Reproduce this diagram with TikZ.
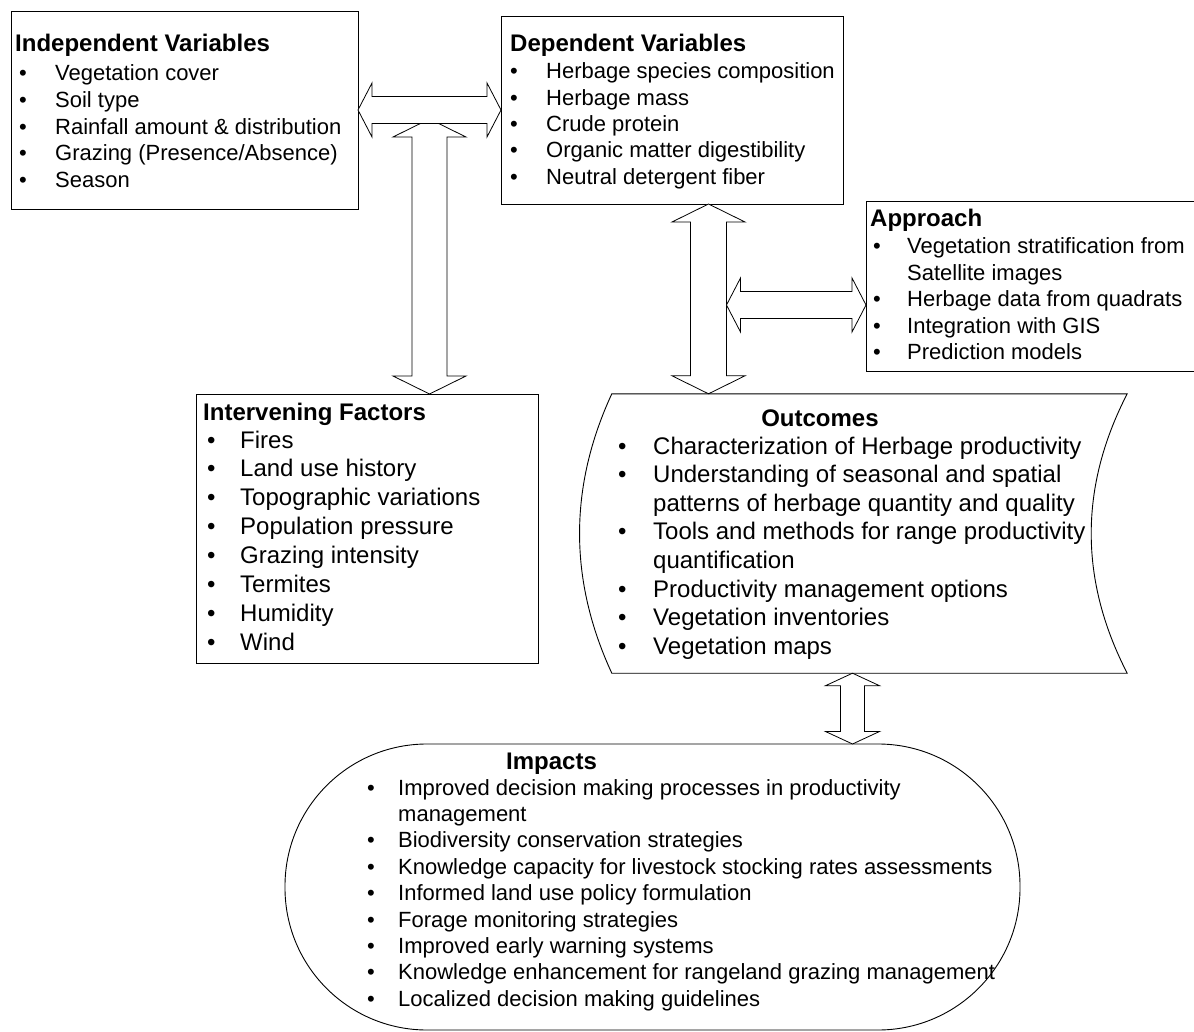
\documentclass[tikz,border=0pt]{standalone}
\usepackage{fontspec}
\setmainfont{Liberation Sans}
\usetikzlibrary{calc}
\tikzset{
  box/.style={draw, line width=0.9pt, inner sep=0pt, outer sep=0pt},
  hdr/.style={font=\fontsize{24}{28}\selectfont\bfseries, inner sep=0pt, anchor=base west},
  lst/.style={inner sep=0pt, anchor=base west},
  blockarrow/.style={draw, fill=white, line width=0.8pt, line join=miter},
}
% block arrows with two heads: tips #1 and #2, head length #3, head half width #4, shaft half width #5
\newcommand{\hblock}[5]{%
  \draw[blockarrow] let \p1=#1, \p2=#2 in (\x1,\y1) -- (\x1+#3,\y1+#4) -- (\x1+#3,\y1+#5) -- (\x2-#3,\y1+#5)
    -- (\x2-#3,\y1+#4) -- (\x2,\y1) -- (\x2-#3,\y1-#4) -- (\x2-#3,\y1-#5) -- (\x1+#3,\y1-#5) -- (\x1+#3,\y1-#4) -- cycle;}
\newcommand{\vblock}[5]{%
  \draw[blockarrow] let \p1=#1, \p2=#2 in (\x1,\y1) -- (\x1+#4,\y1-#3) -- (\x1+#5,\y1-#3) -- (\x1+#5,\y2+#3)
    -- (\x1+#4,\y2+#3) -- (\x1,\y2) -- (\x1-#4,\y2+#3) -- (\x1-#5,\y2+#3) -- (\x1-#5,\y1-#3) -- (\x1-#4,\y1-#3) -- cycle;}

\begin{document}
\begin{tikzpicture}[x=1pt, y=-1pt]
\useasboundingbox (0,0) rectangle (1194,1032);

% boxes
\node[box, minimum width=347pt, minimum height=198pt] (indep) at (184.5,110) {};
\node[box, minimum width=342pt, minimum height=188pt] (dep) at (672,110) {};
\node[box, minimum width=330pt, minimum height=170pt] (appr) at (1031,286) {};
\node[box, minimum width=342pt, minimum height=269pt] (interv) at (367,528.5) {};
\node[inner sep=0pt, minimum width=515pt, minimum height=279pt] (out) at (869.5,533.5) {};
\draw[line width=0.9pt] (out.north west) .. controls ($(out.north west)+(-43,93)$) and ($(out.south west)+(-43,-93)$) .. (out.south west)
  -- (out.south east) .. controls ($(out.south east)+(-48,-93)$) and ($(out.north east)+(-48,93)$) .. (out.north east) -- cycle;
\node[box, rounded corners=142pt, minimum width=735pt, minimum height=286pt] (imp) at (652.5,887) {};

% Independent Variables
\node[hdr] (indep-t) at (15,52) {Independent Variables};
\node[lst, font=\fontsize{22}{26.6}\selectfont] (indep-l) at (19,81) {\begin{tabular}[t]{@{}p{36pt}@{}l@{}}
\textbullet & Vegetation cover\\
\textbullet & Soil type\\
\textbullet & Rainfall amount \& distribution\\
\textbullet & Grazing (Presence/Absence)\\
\textbullet & Season
\end{tabular}};

% Dependent Variables
\node[hdr] (dep-t) at (510,52) {Dependent Variables};
\node[lst, font=\fontsize{22}{26.3}\selectfont] (dep-l) at (510,79) {\begin{tabular}[t]{@{}p{36pt}@{}l@{}}
\textbullet & Herbage species composition\\
\textbullet & Herbage mass\\
\textbullet & Crude protein\\
\textbullet & Organic matter digestibility\\
\textbullet & Neutral detergent fiber
\end{tabular}};

% Approach
\node[hdr] (appr-t) at (870,227) {Approach};
\node[lst, font=\fontsize{22}{26.5}\selectfont] (appr-l) at (873,254) {\begin{tabular}[t]{@{}p{34pt}@{}l@{}}
\textbullet & Vegetation stratification from\\
 & Satellite images\\
\textbullet & Herbage data from quadrats\\
\textbullet & Integration with GIS\\
\textbullet & Prediction models
\end{tabular}};

% Intervening Factors
\node[hdr] (interv-t) at (203,420) {Intervening Factors};
\node[lst, font=\fontsize{24}{28.9}\selectfont] (interv-l) at (207,448) {\begin{tabular}[t]{@{}p{33pt}@{}l@{}}
\textbullet & Fires\\
\textbullet & Land use history\\
\textbullet & Topographic variations\\
\textbullet & Population pressure\\
\textbullet & Grazing intensity\\
\textbullet & Termites\\
\textbullet & Humidity\\
\textbullet & Wind
\end{tabular}};

% Outcomes
\node[hdr, anchor=base] (out-t) at (820,426) {Outcomes};
\node[lst, font=\fontsize{24}{28.6}\selectfont] (out-l) at (618,454) {\begin{tabular}[t]{@{}p{35pt}@{}l@{}}
\textbullet & Characterization of Herbage productivity\\
\textbullet & Understanding of seasonal and spatial\\
 & patterns of herbage quantity and quality\\
\textbullet & Tools and methods for range productivity\\
 & quantification\\
\textbullet & Productivity management options\\
\textbullet & Vegetation inventories\\
\textbullet & Vegetation maps
\end{tabular}};

% Impacts
\node[hdr] (imp-t) at (506,769) {Impacts};
\node[lst, font=\fontsize{22}{26.4}\selectfont] (imp-l) at (367,795) {\begin{tabular}[t]{@{}p{31pt}@{}l@{}}
\textbullet & Improved decision making processes in productivity\\
 & management\\
\textbullet & Biodiversity conservation strategies\\
\textbullet & Knowledge capacity for livestock stocking rates assessments\\
\textbullet & Informed land use policy formulation\\
\textbullet & Forage monitoring strategies\\
\textbullet & Improved early warning systems\\
\textbullet & Knowledge enhancement for rangeland grazing management\\
\textbullet & Localized decision making guidelines
\end{tabular}};

% block arrows
\coordinate (a1l) at (indep.east |- 0,110);
\coordinate (a1r) at (dep.west |- 0,110);
\coordinate (a2t) at (429.5,119);
\coordinate (a2b) at (429.5,0 |- interv.north);
\coordinate (a3t) at (708.5,0 |- dep.south);
\coordinate (a3b) at (708.5,0 |- out.north);
\coordinate (a4l) at (726.5,305);
\coordinate (a4r) at (appr.west |- 0,305);
\coordinate (a5t) at (852.5,0 |- out.south);
\coordinate (a5b) at (852.5,0 |- imp.north);
\vblock{(a2t)}{(a2b)}{18pt}{36.5pt}{17.5pt}
\hblock{(a1l)}{(a1r)}{14pt}{27pt}{13.5pt}
\vblock{(a3t)}{(a3b)}{18pt}{36.5pt}{18pt}
\hblock{(a4l)}{(a4r)}{14pt}{27pt}{13.5pt}
\vblock{(a5t)}{(a5b)}{12.5pt}{27pt}{12pt}

\end{tikzpicture}
\end{document}
